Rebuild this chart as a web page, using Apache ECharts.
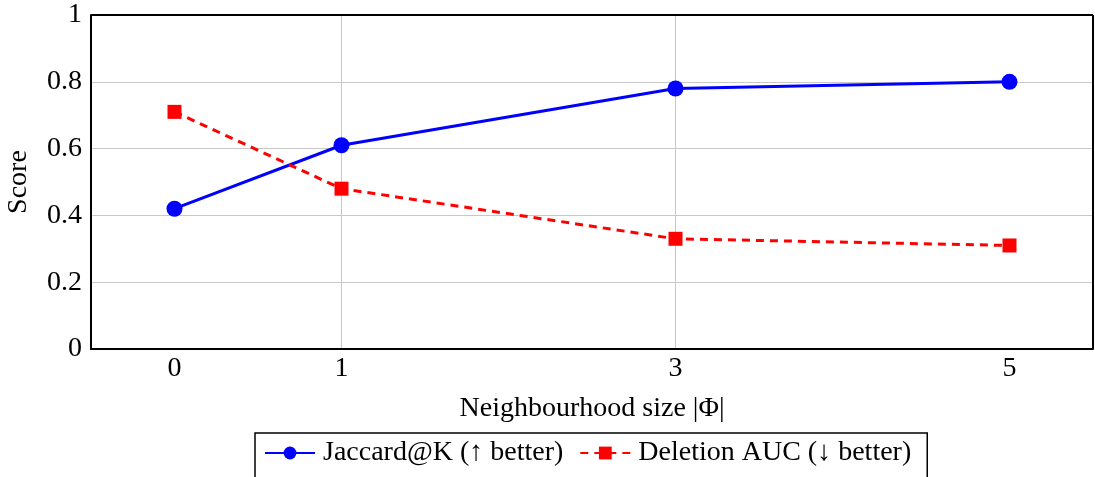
<!DOCTYPE html>
<html><head><meta charset="utf-8">
<script src="https://cdn.jsdelivr.net/npm/echarts@6/dist/echarts.min.js"></script>
<style>html,body{margin:0;padding:0;background:#fff}#c{width:1095px;height:477px}</style>
</head><body><div id="c"></div>
<script>
const xValues = [0, 1, 3, 5];
const jaccard = [0.42, 0.61, 0.78, 0.80];
const deletion = [0.71, 0.48, 0.33, 0.31];
const seriesNames = ['Jaccard@K (↑ better)', 'Deletion AUC (↓ better)'];
const font = 'Liberation Serif';
const fs = 28;

const chart = echarts.init(document.getElementById('c'));
chart.setOption({
  animation: false,
  textStyle: {fontFamily: font},
  grid: {left: 91, right: 2, top: 15, bottom: 128, outerBoundsMode: 'none', containLabel: false},
  xAxis: {
    type: 'value', min: -0.5, max: 5.5,
    name: 'Neighbourhood size |Φ|', nameLocation: 'middle', nameGap: 46,
    nameTextStyle: {fontSize: fs, color: '#000', fontFamily: font},
    axisLine: {show: true, onZero: false, lineStyle: {color: '#000', width: 2}},
    axisTick: {show: false, customValues: xValues},
    axisLabel: {customValues: xValues, fontSize: fs, color: '#000', margin: 6, fontFamily: font},
    splitLine: {show: true, showMinLine: false, showMaxLine: false, lineStyle: {color: '#c8c8c8', width: 1}}
  },
  yAxis: {
    type: 'value', min: 0, max: 1, interval: 0.2,
    name: 'Score', nameLocation: 'middle', nameGap: 58, nameRotate: 90,
    nameTextStyle: {fontSize: fs, color: '#000', fontFamily: font},
    axisLine: {show: true, onZero: false, lineStyle: {color: '#000', width: 2}},
    axisTick: {show: false},
    axisLabel: {fontSize: fs, color: '#000', margin: 9, fontFamily: font,
      formatter: v => String(+v.toFixed(1))},
    splitLine: {show: true, showMinLine: false, showMaxLine: false, lineStyle: {color: '#c8c8c8', width: 1}}
  },
  legend: {
    top: 433, left: 255,
    data: seriesNames,
    itemWidth: 50, itemHeight: 16, itemGap: 16,
    textStyle: {fontSize: fs, color: '#000', fontFamily: font, padding: [0, 0, 0, 3]},
    borderColor: '#000', borderWidth: 1.5, borderRadius: 0,
    padding: [6, 16, 14, 9]
  },
  series: [
    {
      name: seriesNames[0], type: 'line',
      data: xValues.map((x, i) => [x, jaccard[i]]),
      symbol: 'circle', symbolSize: 16,
      itemStyle: {color: '#0000ff'},
      lineStyle: {color: '#0000ff', width: 3}
    },
    {
      name: seriesNames[1], type: 'line',
      data: xValues.map((x, i) => [x, deletion[i]]),
      symbol: 'rect', symbolSize: 14,
      itemStyle: {color: '#ff0000'},
      lineStyle: {color: '#ff0000', width: 3, type: [8, 6]}
    },
    {
      type: 'line', data: [], silent: true,
      markLine: {silent: true, symbol: 'none', label: {show: false},
        lineStyle: {color: '#000', width: 2, type: 'solid'},
        data: [{yAxis: 1}, {xAxis: 5.5}]}
    }
  ]
});
</script></body></html>
